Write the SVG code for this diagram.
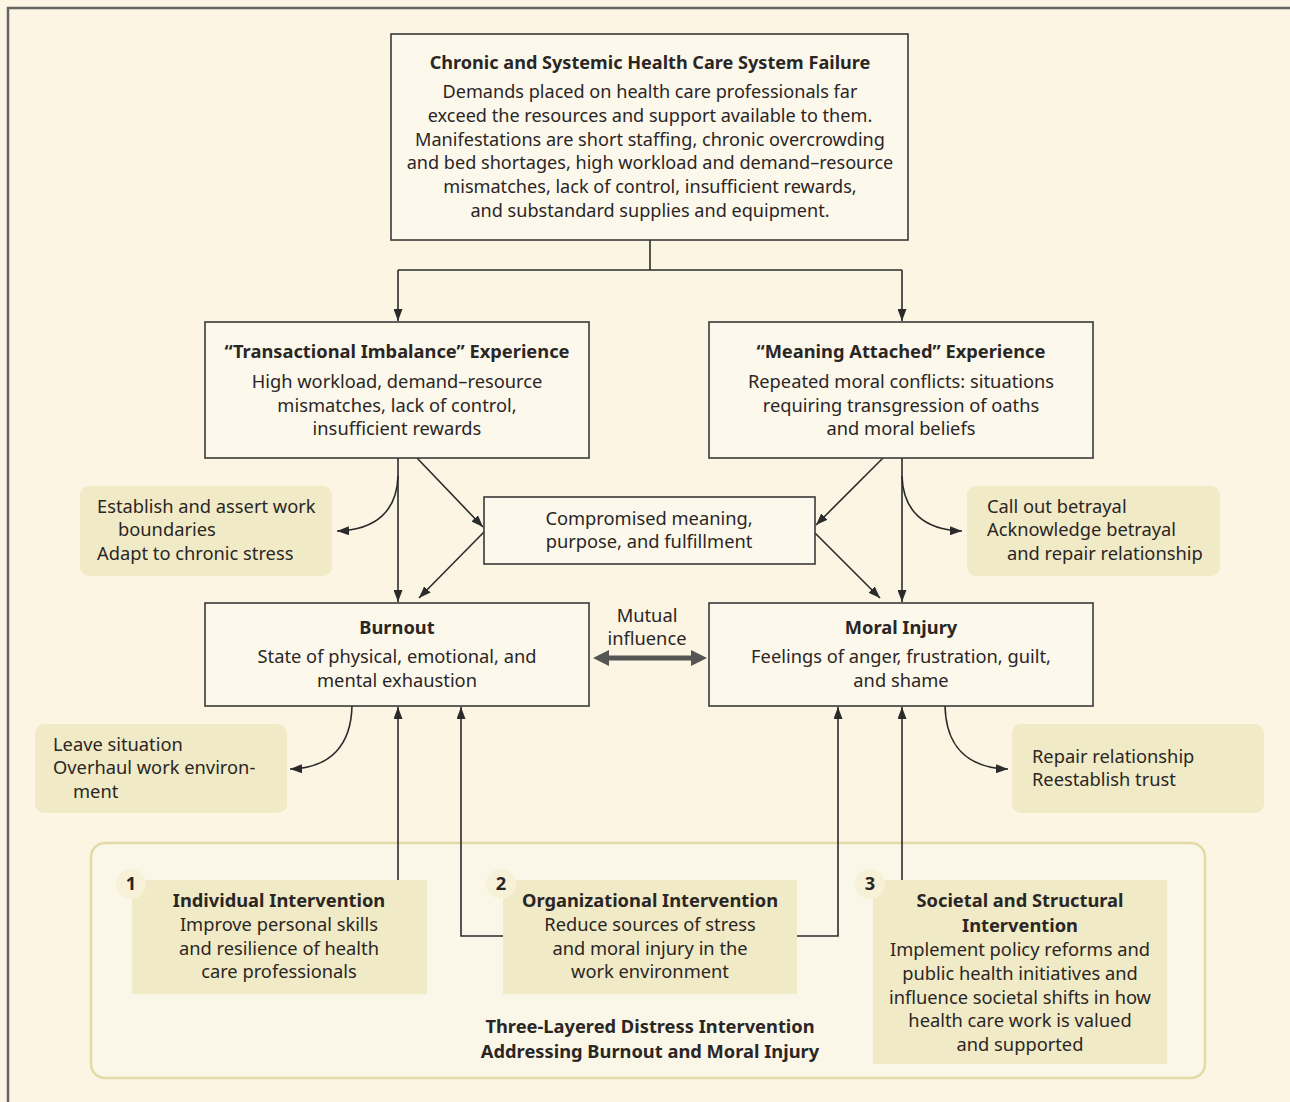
<svg xmlns="http://www.w3.org/2000/svg" width="1290" height="1102" viewBox="0 0 1290 1102">
<defs>
<marker id="ah" markerUnits="userSpaceOnUse" markerWidth="13" markerHeight="9" refX="12" refY="4.5" orient="auto">
<path d="M0,0 L12,4.5 L0,9 z" fill="#2b2b2b"/>
</marker>
<style>
text{font-family:"Noto Sans","Open Sans",sans-serif;font-size:18.3px;fill:#2a2624}
.t text{font-size:18.1px}
.c{text-anchor:middle}
.b{font-weight:bold}
.box{fill:#fdf8ec;stroke:#3a3a3a;stroke-width:1.6}
.side{fill:#f1eac6}
.num{fill:#f7f1d8}
.con{fill:none;stroke:#2b2b2b;stroke-width:1.6}
.arr{marker-end:url(#ah)}
</style>
</defs>
<rect x="0" y="0" width="1290" height="1102" fill="#fcf5e3"/>
<path d="M8,1102 V8 H1290" fill="none" stroke="#666" stroke-width="2.5"/>

<g id="intervention-frame">
<rect x="91" y="843" width="1114" height="235" rx="14" fill="#fbf7e8" stroke="#e3daa6" stroke-width="2.5"/>
<text class="c b" x="650" y="1033">Three-Layered Distress Intervention</text>
<text class="c b" x="650" y="1058">Addressing Burnout and Moral Injury</text>
</g>

<g id="connectors">
<path class="con" d="M650,240 V270 M398,270 H902"/>
<path class="con arr" d="M398,270 V321"/>
<path class="con arr" d="M902,270 V321"/>
<path class="con arr" d="M398,458 V602"/>
<path class="con arr" d="M902,458 V602"/>
<path class="con arr" d="M417,458 L483,527"/>
<path class="con arr" d="M484,532 L419,598"/>
<path class="con arr" d="M883,458 L816,525"/>
<path class="con arr" d="M815,533 L880,598"/>
<path class="con arr" d="M398,476 C397,510 377,530 337,531"/>
<path class="con arr" d="M902,476 C903,510 923,530 962,531"/>
<path class="con arr" d="M352,706 C351,745 331,768 290,769"/>
<path class="con arr" d="M945,706 C946,745 966,768 1008,769"/>
<path class="con arr" d="M398,880 V707"/>
<path class="con arr" d="M503,936 H461 V707"/>
<path class="con arr" d="M797,936 H838 V707"/>
<path class="con arr" d="M902,880 V707"/>
<g id="mutual">
<path d="M606,658 H694" stroke="#555" stroke-width="5" fill="none"/>
<path d="M593,658 L609,650 L609,666 z M707,658 L691,650 L691,666 z" fill="#555"/>
<text class="c" x="647" y="622">Mutual</text>
<text class="c" x="647" y="645">influence</text>
</g>
</g>

<g id="system-failure" class="t">
<rect class="box" x="391" y="34" width="517" height="206"/>
<text class="c b" x="650" y="69">Chronic and Systemic Health Care System Failure</text>
<text class="c" x="650" y="98">Demands placed on health care professionals far</text>
<text class="c" x="650" y="122">exceed the resources and support available to them.</text>
<text class="c" x="650" y="146">Manifestations are short staffing, chronic overcrowding</text>
<text class="c" x="650" y="169">and bed shortages, high workload and demand–resource</text>
<text class="c" x="650" y="193">mismatches, lack of control, insufficient rewards,</text>
<text class="c" x="650" y="217">and substandard supplies and equipment.</text>
</g>

<g id="transactional">
<rect class="box" x="205" y="322" width="384" height="136"/>
<text class="c b" x="397" y="358">“Transactional Imbalance” Experience</text>
<text class="c" x="397" y="388">High workload, demand–resource</text>
<text class="c" x="397" y="412">mismatches, lack of control,</text>
<text class="c" x="397" y="435">insufficient rewards</text>
</g>

<g id="meaning">
<rect class="box" x="709" y="322" width="384" height="136"/>
<text class="c b" x="901" y="358">“Meaning Attached” Experience</text>
<text class="c" x="901" y="388">Repeated moral conflicts: situations</text>
<text class="c" x="901" y="412">requiring transgression of oaths</text>
<text class="c" x="901" y="435">and moral beliefs</text>
</g>

<g id="compromised">
<rect class="box" x="484" y="497" width="331" height="67"/>
<text class="c" x="649" y="525">Compromised meaning,</text>
<text class="c" x="649" y="548">purpose, and fulfillment</text>
</g>

<g id="burnout">
<rect class="box" x="205" y="603" width="384" height="103"/>
<text class="c b" x="397" y="634">Burnout</text>
<text class="c" x="397" y="663">State of physical, emotional, and</text>
<text class="c" x="397" y="687">mental exhaustion</text>
</g>

<g id="moral-injury">
<rect class="box" x="709" y="603" width="384" height="103"/>
<text class="c b" x="901" y="634">Moral Injury</text>
<text class="c" x="901" y="663">Feelings of anger, frustration, guilt,</text>
<text class="c" x="901" y="687">and shame</text>
</g>

<g id="boundaries">
<rect class="side" x="80" y="486" width="252" height="90" rx="9"/>
<text x="97" y="513">Establish and assert work</text>
<text x="118" y="536">boundaries</text>
<text x="97" y="560">Adapt to chronic stress</text>
</g>

<g id="betrayal">
<rect class="side" x="967" y="486" width="253" height="90" rx="9"/>
<text x="987" y="513">Call out betrayal</text>
<text x="987" y="536">Acknowledge betrayal</text>
<text x="1007" y="560">and repair relationship</text>
</g>

<g id="leave">
<rect class="side" x="35" y="724" width="252" height="89" rx="9"/>
<text x="53" y="751">Leave situation</text>
<text x="53" y="774">Overhaul work environ-</text>
<text x="73" y="798">ment</text>
</g>

<g id="repair">
<rect class="side" x="1012" y="724" width="252" height="89" rx="9"/>
<text x="1032" y="763">Repair relationship</text>
<text x="1032" y="786">Reestablish trust</text>
</g>

<g id="individual">
<rect class="side" x="132" y="880" width="295" height="114"/>
<circle class="num" cx="131" cy="884" r="15"/>
<text class="c b" x="131" y="890">1</text>
<text class="c b" x="279" y="907">Individual Intervention</text>
<text class="c" x="279" y="931">Improve personal skills</text>
<text class="c" x="279" y="955">and resilience of health</text>
<text class="c" x="279" y="978">care professionals</text>
</g>

<g id="organizational">
<rect class="side" x="503" y="880" width="294" height="114"/>
<circle class="num" cx="501" cy="884" r="15"/>
<text class="c b" x="501" y="890">2</text>
<text class="c b" x="650" y="907">Organizational Intervention</text>
<text class="c" x="650" y="931">Reduce sources of stress</text>
<text class="c" x="650" y="955">and moral injury in the</text>
<text class="c" x="650" y="978">work environment</text>
</g>

<g id="societal">
<rect class="side" x="873" y="880" width="294" height="184"/>
<circle class="num" cx="870" cy="884" r="15"/>
<text class="c b" x="870" y="890">3</text>
<text class="c b" x="1020" y="907">Societal and Structural</text>
<text class="c b" x="1020" y="932">Intervention</text>
<text class="c" x="1020" y="956">Implement policy reforms and</text>
<text class="c" x="1020" y="980">public health initiatives and</text>
<text class="c" x="1020" y="1004">influence societal shifts in how</text>
<text class="c" x="1020" y="1027">health care work is valued</text>
<text class="c" x="1020" y="1051">and supported</text>
</g>
</svg>
